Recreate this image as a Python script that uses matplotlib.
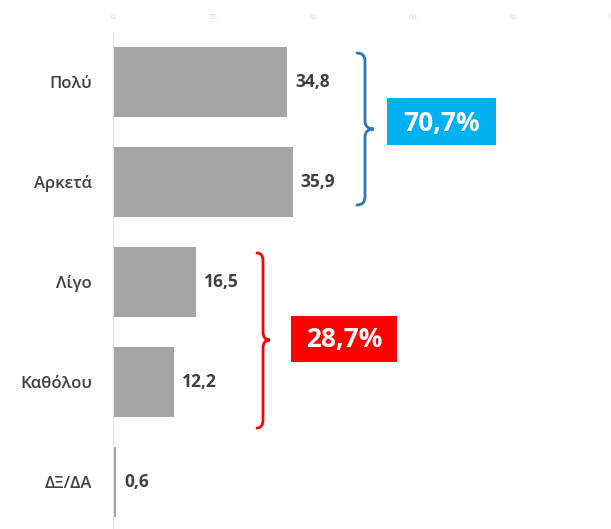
import matplotlib.pyplot as plt
from matplotlib.path import Path
from matplotlib.patches import PathPatch, Rectangle

# data
categories = ['Πολύ', 'Αρκετά', 'Λίγο', 'Καθόλου', 'ΔΞ/ΔΑ']
values = [34.8, 35.9, 16.5, 12.2, 0.6]
valueLabels = ['34,8', '35,9', '16,5', '12,2', '0,6']
xticks = [0, 20, 40, 60, 80, 100]
groupLabels = ['70,7%', '28,7%']

plt.rcParams['font.family'] = ['Open Sans', 'DejaVu Sans']

fig = plt.figure(figsize=(6.11, 5.29), dpi=100)
W, H = 611, 529
ax = fig.add_axes([113 / W, 0, 500 / W, (529 - 32) / H])

yPos = list(range(len(categories)))
ax.barh(yPos, values, height=0.7, color='#a5a5a5')
ax.set_xlim(0, 100)
ax.set_ylim(4.47, -0.5)

ax.set_yticks(yPos)
ax.set_yticklabels(categories, fontsize=12, color='#404040', fontweight='semibold')
ax.tick_params(axis='y', length=0, pad=15)

ax.xaxis.tick_top()
ax.set_xticks(xticks)
ax.set_xticklabels([str(t) for t in xticks], fontsize=5.5, color='#d9d9d9')
ax.tick_params(axis='x', length=0, pad=8)

for s in ['top', 'right', 'bottom']:
  ax.spines[s].set_visible(False)
ax.spines['left'].set_color('#e6e6e6')

for y, v, lab in zip(yPos, values, valueLabels):
  ax.text(v + 1.6, y, lab, va='center', ha='left', fontsize=12.5,
          color='#404040', fontweight='bold')

# curly brace "}" in data coords
def drawBrace(ax, xEnd, xStem, xTip, yTop, yBot, yMid, color):
  r = 0.08
  verts = [
    (xEnd, yTop), (xStem, yTop), (xStem, yTop + r),
    (xStem, yMid - r),
    (xStem, yMid), (xTip, yMid),
    (xStem, yMid), (xStem, yMid + r),
    (xStem, yBot - r),
    (xStem, yBot), (xEnd, yBot),
  ]
  codes = [Path.MOVETO, Path.CURVE3, Path.CURVE3, Path.LINETO,
           Path.CURVE3, Path.CURVE3, Path.CURVE3, Path.CURVE3,
           Path.LINETO, Path.CURVE3, Path.CURVE3]
  ax.add_patch(PathPatch(Path(verts, codes), fill=False, edgecolor=color,
                         lw=2, clip_on=False, capstyle='round'))

drawBrace(ax, 48.8, 50.4, 52.2, -0.29, 1.23, 0.47, '#2e75b6')
drawBrace(ax, 28.8, 30.0, 31.4, 1.71, 3.46, 2.58, '#ff0000')

# summary boxes
ax.add_patch(Rectangle((54.8, 0.16), 21.8, 0.47, fc='#00b0f0', ec='none'))
ax.text(65.7, 0.41, groupLabels[0], ha='center', va='center', fontsize=19,
        color='white', fontweight='bold')
ax.add_patch(Rectangle((35.5, 2.337), 21.3, 0.46, fc='#ff0000', ec='none'))
ax.text(46.15, 2.58, groupLabels[1], ha='center', va='center', fontsize=19,
        color='white', fontweight='bold')

plt.savefig('out.png', dpi=100)
